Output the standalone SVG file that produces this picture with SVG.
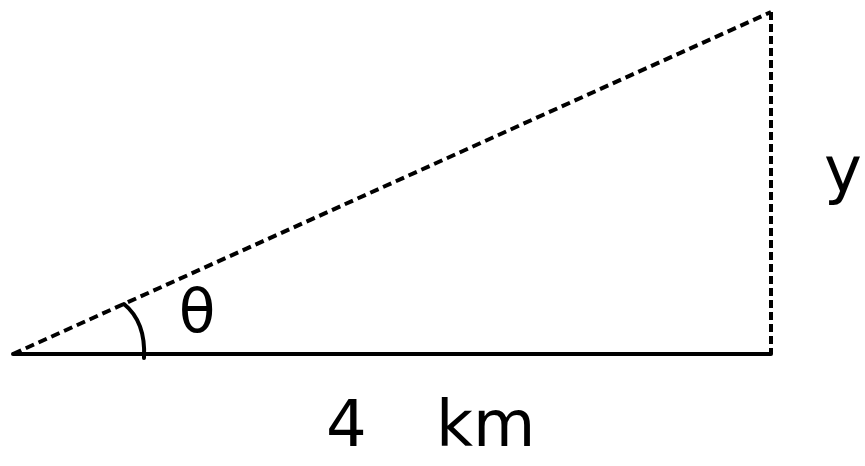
<svg xmlns="http://www.w3.org/2000/svg" width="865" height="466" viewBox="0 0 865 466">
<style>
.solid{stroke:#000;stroke-width:4;fill:none;stroke-linecap:round}
.dash{stroke:#000;stroke-width:4;fill:none}
.lbl{font-family:"DejaVu Sans",sans-serif;fill:#000}
</style>
<rect width="865" height="466" fill="#fff"/>
<g id="connectors">
<line class="solid" x1="13" y1="354" x2="771" y2="354"/>
<line class="dash" x1="13" y1="354" x2="771" y2="12" stroke-dasharray="9 5"/>
<line class="dash" x1="771" y1="12" x2="771" y2="354" stroke-dasharray="8 4"/>
<path class="solid" d="M124,304 Q146,322 144,358"/>
</g>
<g id="theta"><text class="lbl" x="197" y="332" font-size="60" text-anchor="middle">θ</text></g>
<g id="y"><text class="lbl" x="824" y="192" font-size="64">y</text></g>
<g id="base"><text class="lbl" x="326" y="446" font-size="64">4</text><text class="lbl" x="436" y="446" font-size="64">km</text></g>
</svg>
